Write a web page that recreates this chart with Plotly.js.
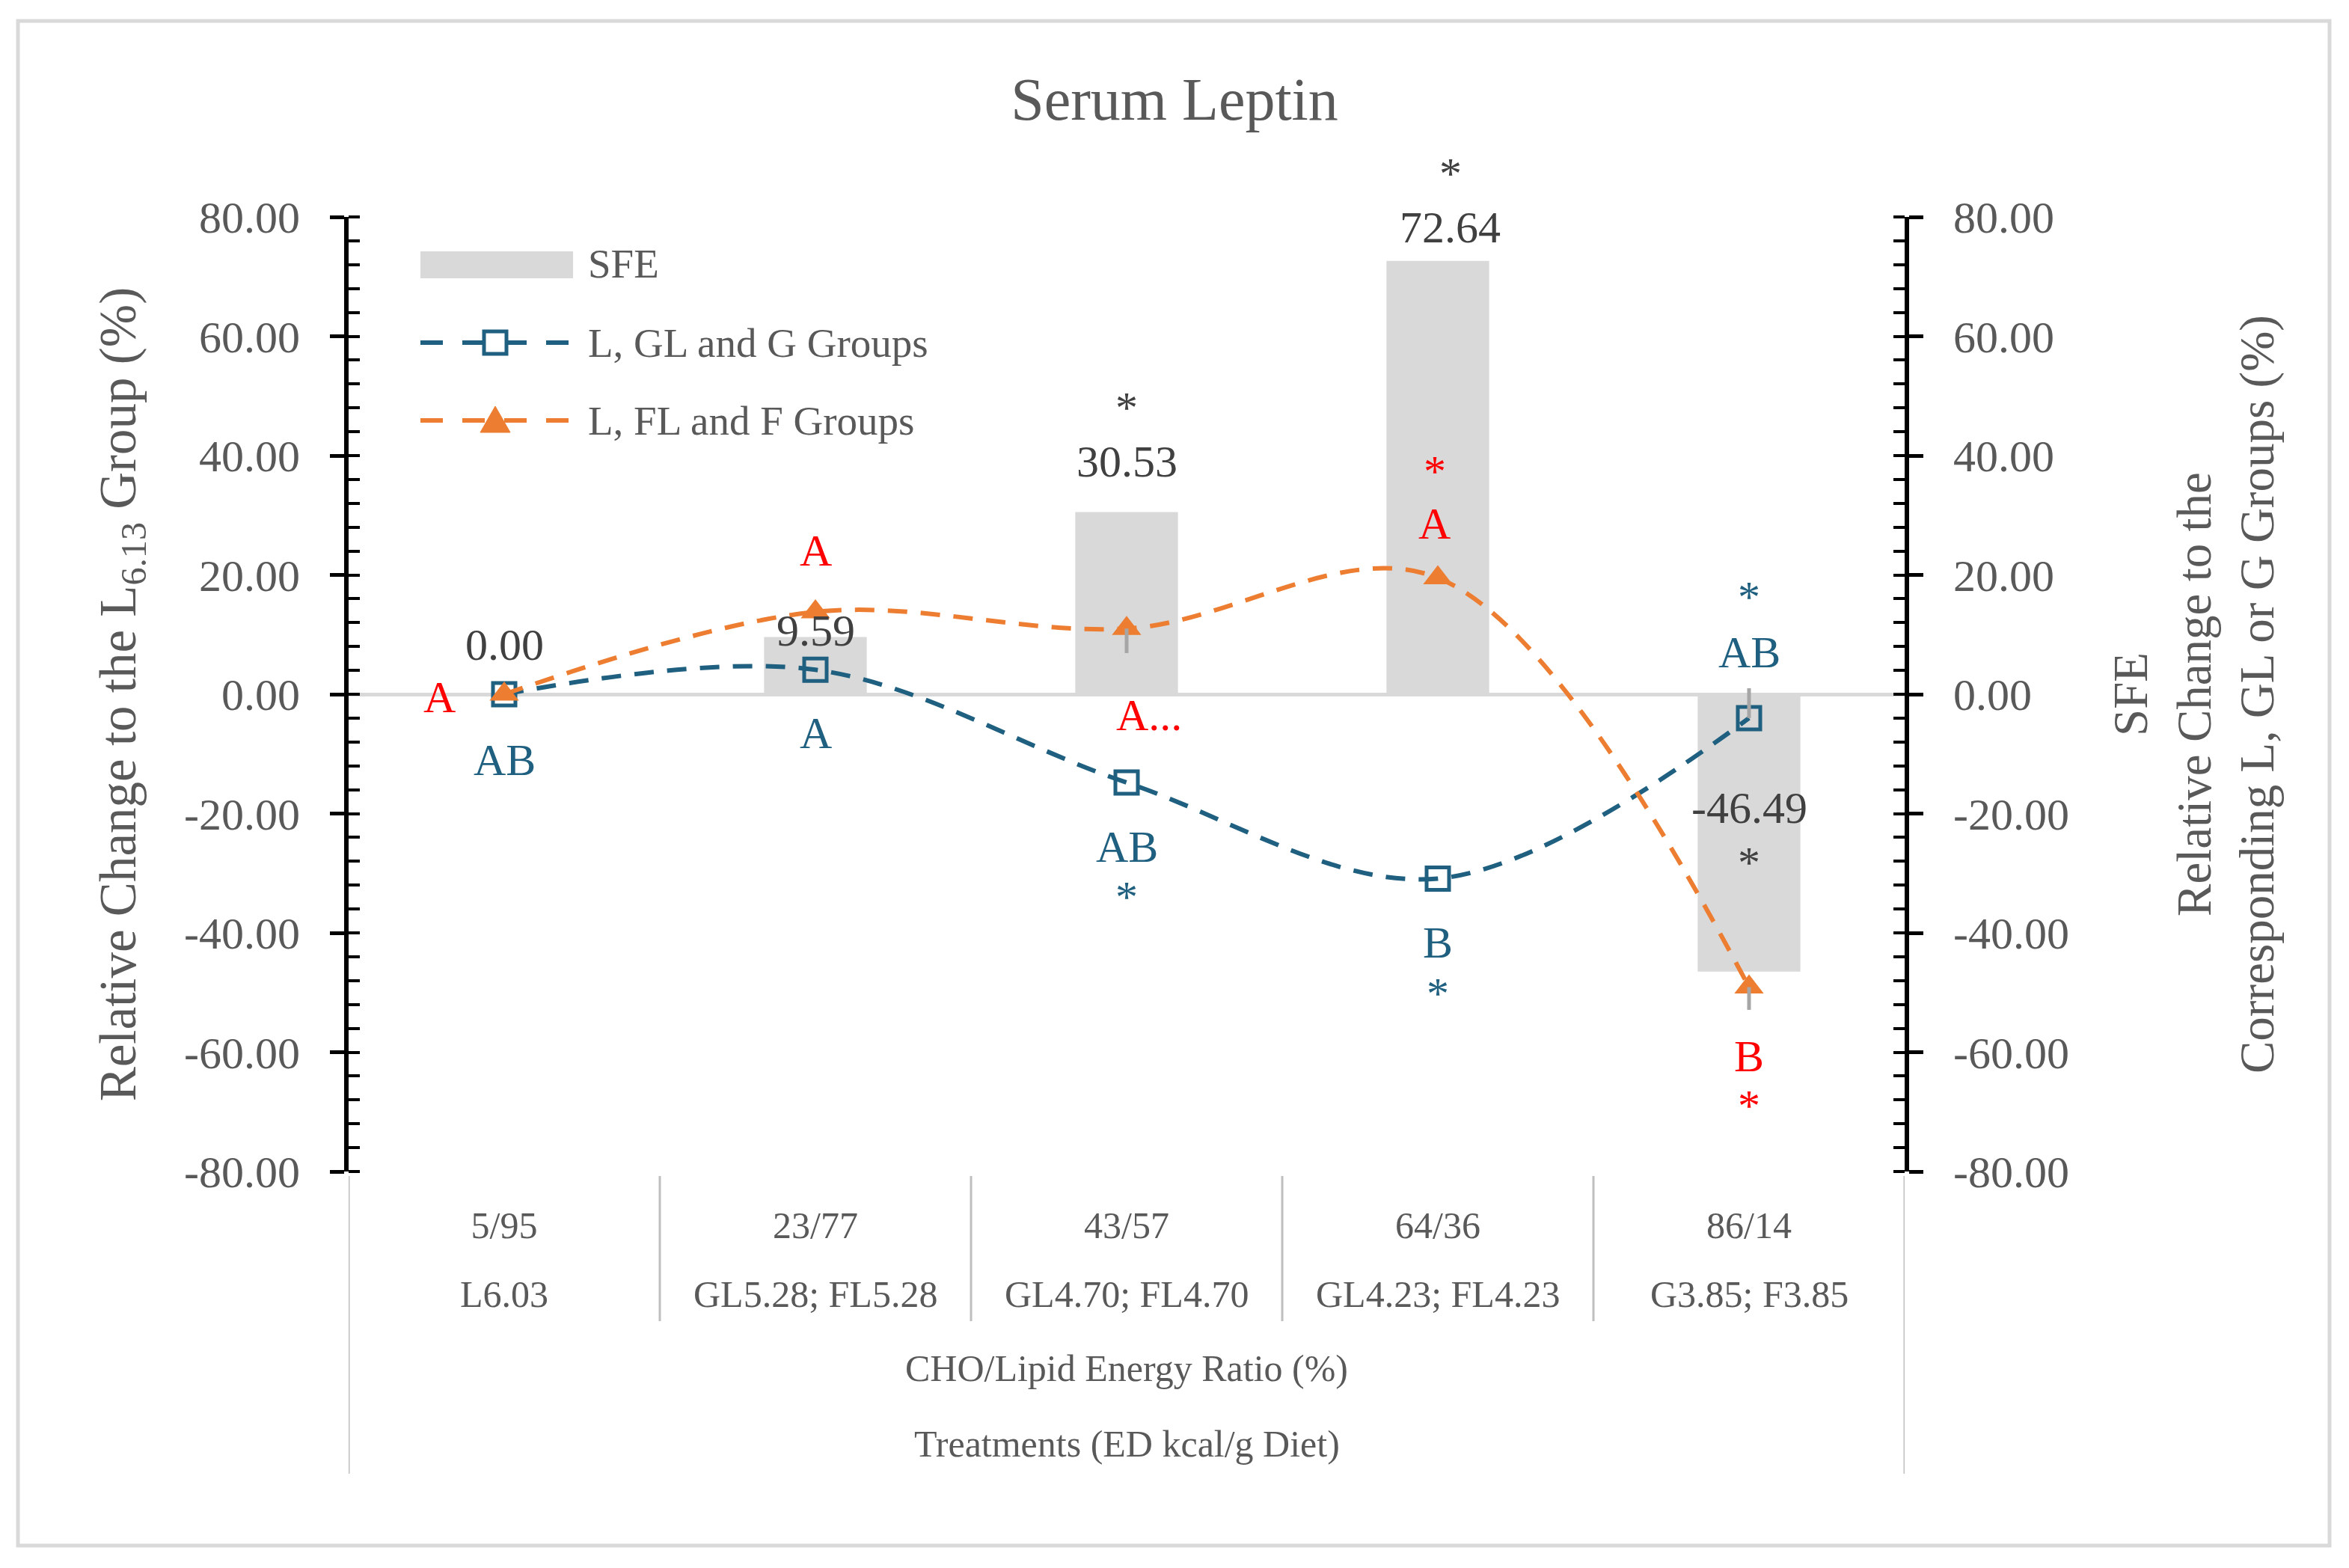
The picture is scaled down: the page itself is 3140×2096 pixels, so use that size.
<!DOCTYPE html>
<html><head><meta charset="utf-8">
<script src="https://cdn.plot.ly/plotly-3.0.1.min.js"></script>
<style>html,body{margin:0;padding:0;background:#fff}#chart{width:3140px;height:2096px}</style>
</head><body><div id="chart"></div>
<script>
// ---------- data ----------
const categories = ['5/95', '23/77', '43/57', '64/36', '86/14'];
const treatments = ['L6.03', 'GL5.28; FL5.28', 'GL4.70; FL4.70', 'GL4.23; FL4.23', 'G3.85; F3.85'];
const sfeValues = [0.00, 9.59, 30.53, 72.64, -46.49];
const sfeLabels = ['0.00', '9.59', '30.53', '72.64', '-46.49'];
const glGroups = [0.0, 4.1, -14.8, -30.9, -4.0];
const flGroups = [0.0, 13.8, 11.0, 19.5, -49.1];
const glErrPlus = [0, 0, 0, 0, 5.0];
const glErrMinus = [0, 0, 0, 0, 0];
const flErrPlus = [0, 0, 0, 0, 0];
const flErrMinus = [0, 0, 4.1, 0, 3.8];
const yTickVals = [-80, -60, -40, -20, 0, 20, 40, 60, 80];
const yTickText = ['-80.00', '-60.00', '-40.00', '-20.00', '0.00', '20.00', '40.00', '60.00', '80.00'];
const seriesNames = ['SFE', 'L, GL and G Groups', 'L, FL and F Groups'];
const xTitle = 'CHO/Lipid Energy Ratio (%)';
const xTitle2 = 'Treatments (ED kcal/g Diet)';

// ---------- style ----------
const FONT = '"Liberation Serif", "Times New Roman", serif';
const BLUE = '#1F5F7F';
const ORANGE = '#ED7D31';
const RED = '#FF0000';
const GREYTXT = '#595959';
const DARKTXT = '#404040';
const BARGREY = '#D9D9D9';
const ERRGREY = '#A6A6A6';

const W = 3140, H = 2096;
const L = 466, R = 2546, T = 290, B = 1566;
const px = xr => (xr - L) / (R - L);
const py = yr => (B - yr) / (B - T);

const traces = [
  {type: 'bar', x: categories, y: sfeValues, name: seriesNames[0], marker: {color: BARGREY},
   width: 0.33, yaxis: 'y', showlegend: false, hoverinfo: 'x+y'},
  {type: 'scatter', mode: 'lines+markers', x: categories, y: glGroups, name: seriesNames[1], yaxis: 'y2',
   line: {color: BLUE, width: 6, dash: '26px,18px', shape: 'spline', smoothing: 1},
   marker: {symbol: 'square-open', size: 30, color: BLUE, line: {width: 5, color: BLUE}},
   showlegend: false, cliponaxis: false},
  {type: 'scatter', mode: 'lines+markers', x: categories, y: flGroups, name: seriesNames[2], yaxis: 'y2',
   line: {color: ORANGE, width: 6, dash: '26px,18px', shape: 'spline', smoothing: 1},
   marker: {symbol: 'triangle-up', size: 34, color: ORANGE},
   showlegend: false, cliponaxis: false},
  {type: 'scatter', mode: 'markers', x: categories, y: glGroups, yaxis: 'y2', showlegend: false, hoverinfo: 'skip',
   marker: {opacity: 0, size: 1},
   error_y: {type: 'data', symmetric: false, array: glErrPlus, arrayminus: glErrMinus, color: ERRGREY, thickness: 5, width: 0}},
  {type: 'scatter', mode: 'markers', x: categories, y: flGroups, yaxis: 'y2', showlegend: false, hoverinfo: 'skip',
   marker: {opacity: 0, size: 1},
   error_y: {type: 'data', symmetric: false, array: flErrPlus, arrayminus: flErrMinus, color: ERRGREY, thickness: 5, width: 0}}
];

const yCommon = {
  range: [-80, 80], tickmode: 'array', tickvals: yTickVals, ticktext: yTickText,
  showline: true, linecolor: '#000', linewidth: 6,
  ticks: 'outside', ticklen: 19, tickwidth: 5, tickcolor: '#000',
  minor: {tickmode: 'linear', tick0: 0, dtick: 4, ticks: 'inside', ticklen: 15, tickwidth: 4, tickcolor: '#000'},
  showgrid: false, fixedrange: true,
  tickfont: {family: FONT, size: 60, color: GREYTXT},
  ticklabelstandoff: 28
};
const yInner = {
  range: [-80, 80], tickmode: 'array', tickvals: yTickVals, ticks: 'inside', ticklen: 19, tickwidth: 5,
  tickcolor: '#000', showticklabels: false, showline: false, showgrid: false, zeroline: false, overlaying: 'y'
};

// annotations
const anns = [];
function ann(x, y, text, color, extra) {
  anns.push(Object.assign({xref: 'x', yref: 'y', x: x, y: y, text: text, showarrow: false,
    xanchor: 'center', yanchor: 'middle', font: {family: FONT, size: 60, color: color}}, extra || {}));
}
// bar value labels
const barLabelY = [8.3, 10.6, 39.0, 78.3, -19.0];
const barLabelDx = [0, 0, 0, 0.04, 0];
sfeLabels.forEach((t, i) => ann(i + barLabelDx[i], barLabelY[i], t, DARKTXT));
ann(2, 48.0, '*', DARKTXT);
ann(4, -28.2, '*', DARKTXT);
// star above the 72.64 label lies above the axis range -> paper reference
anns.push({xref: 'x', yref: 'paper', x: 3.04, y: py(232), text: '*', showarrow: false,
  xanchor: 'center', yanchor: 'middle', font: {family: FONT, size: 60, color: DARKTXT}});
// orange-series letters (red)
ann(-0.207, -0.5, 'A', RED);
ann(1, 24.1, 'A', RED);
ann(2.072, -3.5, 'A...', RED);
ann(2.99, 37.4, '*', RED);
ann(2.99, 28.6, 'A', RED);
ann(4, -60.7, 'B', RED);
ann(4, -69.0, '*', RED);
// blue-series letters
ann(0, -11.0, 'AB', BLUE);
ann(1, -6.5, 'A', BLUE);
ann(2, -25.6, 'AB', BLUE);
ann(2, -34.0, '*', BLUE);
ann(3, -41.6, 'B', BLUE);
ann(3, -50.1, '*', BLUE);
ann(4, 16.3, '*', BLUE);
ann(4, 7.0, 'AB', BLUE);

// second row of category labels
treatments.forEach((t, i) => anns.push({xref: 'x', yref: 'paper', x: i, y: py(1730), text: t, showarrow: false,
  xanchor: 'center', yanchor: 'middle', font: {family: FONT, size: 50, color: GREYTXT}}));
anns.push({xref: 'paper', yref: 'paper', x: 0.5, y: py(1930), text: xTitle2, showarrow: false,
  xanchor: 'center', yanchor: 'middle', font: {family: FONT, size: 50, color: GREYTXT}});

// manual legend
const legendFont = {family: FONT, size: 55, color: GREYTXT};
const legY = [352, 458, 562];
seriesNames.forEach((n, i) => anns.push({xref: 'paper', yref: 'paper', x: px(784), y: py(legY[i]), text: n,
  showarrow: false, xanchor: 'left', yanchor: 'middle', font: legendFont}));

const shapes = [];
// legend samples
shapes.push({type: 'rect', xref: 'paper', yref: 'paper', x0: px(562), x1: px(766), y0: py(372), y1: py(336),
  fillcolor: BARGREY, line: {width: 0}});
shapes.push({type: 'line', xref: 'paper', yref: 'paper', x0: px(562), x1: px(764), y0: py(458), y1: py(458),
  line: {color: BLUE, width: 6, dash: '30px,26px'}});
shapes.push({type: 'rect', xref: 'paper', yref: 'paper', x0: px(647), x1: px(677), y0: py(473), y1: py(443),
  fillcolor: '#fff', line: {color: BLUE, width: 5}});
shapes.push({type: 'line', xref: 'paper', yref: 'paper', x0: px(562), x1: px(764), y0: py(562), y1: py(562),
  line: {color: ORANGE, width: 6, dash: '30px,26px'}});
shapes.push({type: 'path', xref: 'paper', yref: 'paper',
  path: 'M' + px(642) + ',' + py(578) + ' L' + px(682) + ',' + py(578) + ' L' + px(662) + ',' + py(543) + ' Z',
  fillcolor: ORANGE, line: {color: ORANGE, width: 1}});
// category separators
[0.5, 1.5, 2.5, 3.5].forEach(v => shapes.push({type: 'line', xref: 'x', yref: 'paper', x0: v, x1: v,
  y0: py(1572), y1: py(1766), line: {color: '#BFBFBF', width: 3}}));
[-0.5, 4.5].forEach(v => shapes.push({type: 'line', xref: 'x', yref: 'paper', x0: v, x1: v,
  y0: py(1572), y1: py(1970), line: {color: '#BFBFBF', width: 3}}));
// outer frame
shapes.push({type: 'rect', xref: 'paper', yref: 'paper', x0: px(24), x1: px(3114), y0: py(2066), y1: py(28),
  line: {color: '#D9D9D9', width: 5}, fillcolor: 'rgba(0,0,0,0)'});

const layout = {
  width: W, height: H,
  margin: {l: L, r: W - R, t: T, b: H - B, pad: 0},
  paper_bgcolor: '#fff', plot_bgcolor: '#fff',
  showlegend: false,
  title: {text: 'Serum Leptin', font: {family: FONT, size: 80, color: GREYTXT},
    x: 0.5, xanchor: 'center', y: 1 - 132 / H, yanchor: 'middle'},
  xaxis: {type: 'category', categoryorder: 'array', categoryarray: categories, range: [-0.5, 4.5],
    showline: false, ticks: '', showgrid: false, zeroline: false, fixedrange: true,
    tickfont: {family: FONT, size: 50, color: GREYTXT}, ticklabelstandoff: 38,
    title: {text: xTitle, font: {family: FONT, size: 50, color: GREYTXT}, standoff: 145}},
  yaxis: Object.assign({}, yCommon, {side: 'left', zeroline: true, zerolinecolor: BARGREY, zerolinewidth: 5,
    title: {text: 'Relative Change to the L<sub>6.13</sub> Group (%)', font: {family: FONT, size: 69, color: GREYTXT}, standoff: 44}}),
  yaxis2: Object.assign({}, yCommon, {side: 'right', overlaying: 'y', zeroline: false,
    title: {text: 'SFE<br>Relative Change to the<br>Corresponding L, GL or G Groups (%)', font: {family: FONT, size: 65, color: GREYTXT}, standoff: 62}}),
  yaxis3: Object.assign({}, yInner, {side: 'left'}),
  yaxis4: Object.assign({}, yInner, {side: 'right'}),
  bargap: 0.67,
  annotations: anns,
  shapes: shapes
};

Plotly.newPlot('chart', traces, layout, {staticPlot: true, displayModeBar: false});
</script>
</body></html>
